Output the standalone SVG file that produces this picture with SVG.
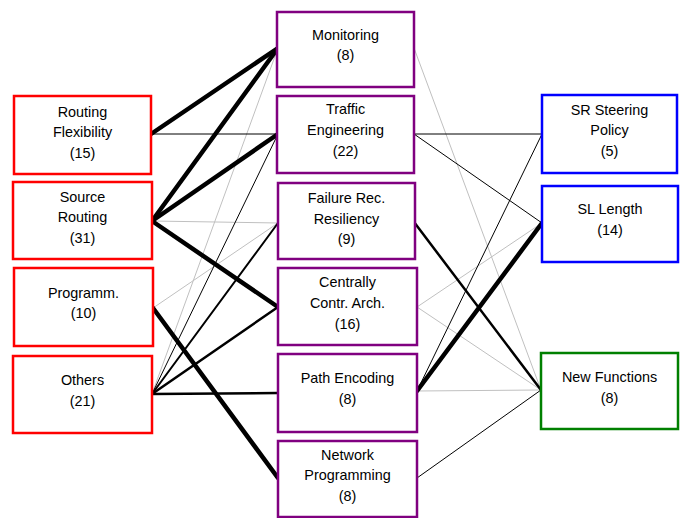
<svg xmlns="http://www.w3.org/2000/svg" width="682" height="518" viewBox="0 0 682 518">
<style>
rect{fill:#fff;stroke-width:2.5}
.l rect{stroke:#ff0000}
.m rect{stroke:#800080}
.b rect{stroke:#0000ff}
.g rect{stroke:#008000}
text{font-family:"Liberation Sans",Arial,sans-serif;font-size:14.4px;fill:#000;text-anchor:middle}
line{stroke-linecap:round}
.k1{stroke:#000;stroke-width:1}
.k2{stroke:#000;stroke-width:2.5}
.k4{stroke:#000;stroke-width:4.5}
.gr{stroke:#c0c0c0;stroke-width:1}
</style>
<rect x="0" y="0" width="682" height="518" style="fill:#fff;stroke:none"/>
<g id="connectors">
<line class="gr" x1="152" y1="221" x2="278" y2="223"/>
<line class="gr" x1="153" y1="308" x2="278" y2="223"/>
<line class="gr" x1="152" y1="394" x2="278" y2="48"/>
<line class="gr" x1="414" y1="48" x2="541" y2="390"/>
<line class="gr" x1="417" y1="307" x2="542" y2="223"/>
<line class="gr" x1="417" y1="307" x2="541" y2="390"/>
<line class="gr" x1="417" y1="391" x2="541" y2="390"/>
<line class="k1" x1="151" y1="134" x2="278" y2="134"/>
<line class="k1" x1="152" y1="394" x2="278" y2="134"/>
<line class="k1" x1="414" y1="134" x2="542" y2="134"/>
<line class="k1" x1="414" y1="134" x2="542" y2="223"/>
<line class="k1" x1="417" y1="391" x2="542" y2="134"/>
<line class="k1" x1="417" y1="478" x2="541" y2="390"/>
<line class="k2" x1="152" y1="394" x2="278" y2="223" style="stroke-width:2"/>
<line class="k2" x1="152" y1="394" x2="278" y2="307"/>
<line class="k2" x1="152" y1="394" x2="278" y2="393"/>
<line class="k2" x1="414" y1="222" x2="541" y2="390"/>
<line class="k4" x1="151" y1="134" x2="278" y2="48"/>
<line class="k4" x1="152" y1="221" x2="278" y2="48"/>
<line class="k4" x1="152" y1="221" x2="278" y2="134"/>
<line class="k4" x1="152" y1="221" x2="278" y2="307"/>
<line class="k4" x1="153" y1="308" x2="278" y2="478"/>
<line class="k4" x1="417" y1="391" x2="542" y2="223"/>
</g>
<g id="routing-flexibility" class="l"><rect x="14" y="96" width="137" height="78"/><text x="82.5" y="116.5">Routing</text><text x="82.5" y="137">Flexibility</text><text x="82.5" y="157.5">(15)</text></g>
<g id="source-routing" class="l"><rect x="13" y="182" width="139" height="77"/><text x="82.5" y="201.5">Source</text><text x="82.5" y="222">Routing</text><text x="82.5" y="242.5">(31)</text></g>
<g id="programm" class="l"><rect x="14" y="268" width="139" height="78"/><text x="83.5" y="297.5">Programm.</text><text x="83.5" y="318">(10)</text></g>
<g id="others" class="l"><rect x="13" y="356" width="139" height="77"/><text x="82.5" y="384.5">Others</text><text x="82.5" y="405.5">(21)</text></g>
<g id="monitoring" class="m"><rect x="277" y="12" width="137" height="75"/><text x="345.5" y="39.5">Monitoring</text><text x="345.5" y="60">(8)</text></g>
<g id="traffic-engineering" class="m"><rect x="277" y="96" width="137" height="77"/><text x="345.5" y="114">Traffic</text><text x="345.5" y="135">Engineering</text><text x="345.5" y="156">(22)</text></g>
<g id="failure-rec" class="m"><rect x="278" y="183" width="137" height="76"/><text x="346.5" y="202.5">Failure Rec.</text><text x="346.5" y="223.5">Resiliency</text><text x="346.5" y="243.5">(9)</text></g>
<g id="centrally" class="m"><rect x="278" y="268" width="139" height="77"/><text x="347.5" y="287">Centrally</text><text x="347.5" y="307.5">Contr. Arch.</text><text x="347.5" y="328.5">(16)</text></g>
<g id="path-encoding" class="m"><rect x="278" y="354" width="139" height="78"/><text x="347.5" y="383">Path Encoding</text><text x="347.5" y="403.5">(8)</text></g>
<g id="network-programming" class="m"><rect x="278" y="441" width="139" height="76"/><text x="347.5" y="459.5">Network</text><text x="347.5" y="480">Programming</text><text x="347.5" y="501">(8)</text></g>
<g id="sr-steering" class="b"><rect x="542" y="95" width="135" height="78"/><text x="609.5" y="114.5">SR Steering</text><text x="609.5" y="135">Policy</text><text x="609.5" y="156">(5)</text></g>
<g id="sl-length" class="b"><rect x="542" y="186" width="136" height="76"/><text x="610" y="213.5">SL Length</text><text x="610" y="234.5">(14)</text></g>
<g id="new-functions" class="g"><rect x="541" y="353" width="137" height="76"/><text x="609.5" y="382">New Functions</text><text x="609.5" y="403">(8)</text></g>
</svg>
